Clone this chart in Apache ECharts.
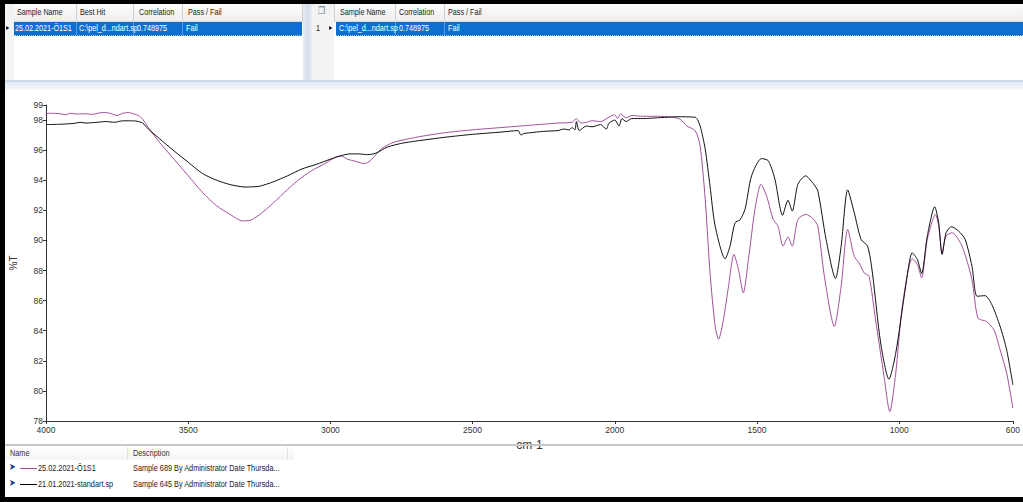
<!DOCTYPE html>
<html>
<head>
<meta charset="utf-8">
<script src="https://cdn.jsdelivr.net/npm/echarts@6/dist/echarts.min.js"></script>
<style>
  html,body{margin:0;padding:0;background:#fff;}
  #wrap{position:relative;width:1023px;height:502px;overflow:hidden;background:#fff;font-family:"Liberation Sans",Arial,sans-serif;}
  #chart{position:absolute;left:0;top:0;width:1023px;height:502px;}
  .abs{position:absolute;}
  .t{position:absolute;font-size:9px;color:#222;white-space:nowrap;line-height:12px;transform-origin:0 50%;transform:scaleX(0.8);}
  .w{color:#fff;}
</style>
</head>
<body>
<div id="wrap">
  <div id="chart"></div>
</div>
<script>
// ---------- data ----------
var xTickValues = [4000, 3500, 3000, 2500, 2000, 1500, 1000, 600];
var yTickValues = [78, 80, 82, 84, 86, 88, 90, 92, 94, 96, 98, 99];

var sampleName = "25.02.2021-Ö1S1";
var standardName = "21.01.2021-standart.sp";
var bestHit = "C:\\pel_d...ndart.sp";
var correlation = "0.748975";
var passFail = "Fail";
var desc1 = "Sample 689 By Administrator Date Thursda...";
var desc2 = "Sample 645 By Administrator Date Thursda...";

// sample (purple) spectrum: wavenumber (cm-1) and %T
var sampleWn = [4000,3980,3950,3930,3915,3890,3860,3840,3810,3790,3770,3750,3730,3710,3690,3675,3660,3640,3600,3550,3500,3450,3400,3350,3310,3280,3250,3200,3150,3100,3060,3020,2980,2960,2940,2910,2880,2860,2840,2820,2780,2700,2600,2500,2400,2300,2200,2150,2135,2120,2100,2080,2050,2020,2000,1990,1980,1960,1940,1900,1850,1800,1770,1746,1717,1700,1682,1665,1647,1635,1618,1600,1581,1565,1548,1530,1507,1486,1466,1443,1426,1408,1391,1376,1356,1327,1303,1286,1263,1228,1204,1181,1158,1141,1123,1106,1083,1053,1033,1012,989,954,936,921,901,872,861,849,835,814,779,744,723,694,667,645,622,600];
var sampleT  = [98.45,98.45,98.42,98.35,98.45,98.4,98.42,98.38,98.48,98.5,98.42,98.3,98.45,98.5,98.4,98.3,98.05,97.5,96.5,95.4,94.3,93.2,92.3,91.7,91.3,91.35,91.7,92.5,93.4,94.2,94.7,95.1,95.55,95.6,95.4,95.25,95.1,95.3,95.7,96.1,96.5,96.85,97.15,97.35,97.5,97.65,97.8,97.85,98.1,97.8,97.85,97.95,97.9,98.2,98.35,98.1,98.4,98.15,98.3,98.25,98.25,98.2,98.05,97.6,97.29,96.29,92.73,87.84,84.29,83.44,84.73,86.96,89.07,88.07,86.51,88.73,92.07,93.73,92.95,91.4,90.95,89.62,90.24,89.62,91.4,91.73,91.44,90.95,87.62,84.29,86.96,90.73,88.95,88.51,87.84,87.62,84.73,80.95,78.62,81.18,85.62,88.78,88.4,87.51,90.07,91.73,90.95,89.13,90.29,90.51,89.62,87.4,84.84,84.62,84.07,82.73,81.18,78.85];

// standard (black) spectrum
var standardWn = [4000,3950,3900,3880,3860,3820,3790,3760,3730,3700,3680,3660,3640,3600,3550,3500,3450,3400,3350,3300,3250,3200,3150,3100,3050,3000,2960,2930,2900,2870,2840,2800,2750,2700,2600,2500,2400,2340,2330,2320,2300,2250,2200,2180,2160,2150,2140,2135,2125,2100,2080,2050,2030,2020,2000,1985,1975,1960,1940,1900,1850,1800,1781,1717,1700,1682,1665,1647,1612,1595,1577,1560,1542,1519,1484,1460,1437,1410,1391,1376,1356,1329,1303,1286,1257,1224,1204,1181,1158,1134,1111,1094,1065,1036,1012,977,954,936,921,901,875,861,849,835,816,791,768,744,726,698,674,645,622,600];
var standardT  = [97.7,97.72,97.78,97.85,97.8,97.85,97.9,97.85,97.95,97.95,97.92,97.8,97.4,96.75,95.95,95.2,94.45,94.0,93.7,93.55,93.6,93.9,94.3,94.75,95.05,95.4,95.65,95.75,95.75,95.7,95.8,96.2,96.45,96.6,96.85,97.05,97.2,97.3,97.0,97.1,97.15,97.25,97.3,97.4,97.35,97.5,97.35,97.9,97.3,97.6,97.55,97.7,97.4,97.8,98.0,97.6,98.1,97.9,98.1,98.1,98.15,98.2,98.22,98.18,97.6,96.07,93.6,90.95,88.78,89.6,91.18,91.36,92.07,94.29,95.44,95.29,94.07,91.67,92.67,91.95,93.73,94.29,93.8,93.29,90.07,87.47,89.62,93.36,91.85,90.07,89.62,87.84,83.18,80.78,82.51,86.95,89.18,88.73,87.8,90.29,92.24,91.18,89.07,90.51,90.91,90.62,90.07,88.29,86.29,86.33,85.73,84.29,82.73,80.4];

// ---------- UI panels (HTML) ----------
var wrap = document.getElementById('wrap');
function box(l,t,w,h,style){var d=document.createElement('div');d.className='abs';d.style.left=l+'px';d.style.top=t+'px';d.style.width=w+'px';d.style.height=h+'px';if(style)d.style.cssText+=style;wrap.appendChild(d);return d;}
function txt(l,t,s,cls,extra){var d=document.createElement('div');d.className='t'+(cls?' '+cls:'');d.style.left=l+'px';d.style.top=t+'px';d.textContent=s;if(extra)d.style.cssText+=extra;wrap.appendChild(d);return d;}

// top panels background
box(0,0,1023,90,'background:#fff;');
// header rows
box(4,4,300,17,'background:linear-gradient(#fdfdfd,#eeeeee);border-bottom:1px solid #d8d8d8;');
box(312,4,711,17,'background:linear-gradient(#fdfdfd,#eeeeee);border-bottom:1px solid #d8d8d8;');
// row header column
box(4,4,10,78,'background:#f3f3f3;');
box(312,4,22,78,'background:#f3f3f3;');
// selected rows
box(14,22,288,13,'background:#0f6fd1;border-bottom:1px dotted #9cc4ee;');
box(336,22,687,13,'background:#0f6fd1;border-bottom:1px dotted #9cc4ee;');
// column separators
[76,133,182,302].forEach(function(x){box(x,4,1,17,'background:#d0d0d0;');});
[334,395,444].forEach(function(x){box(x,4,1,17,'background:#d0d0d0;');});
[76,133,182].forEach(function(x){box(x,22,1,13,'background:#5a9be0;');});
[395,444].forEach(function(x){box(x,22,1,13,'background:#5a9be0;');});
// panel gap and bottom band
box(303,4,9,86,'background:linear-gradient(90deg,#e6ecf4,#d3deec,#e6ecf4);');
box(4,80,1019,2,'background:#c9d8ea;');
box(4,82,1019,8,'background:linear-gradient(#e4ebf4,#f4f7fb);');
// texts top
txt(17,6,'Sample Name'); txt(80,6,'Best Hit'); txt(139,6,'Correlation'); txt(188,6,'Pass / Fail');
txt(15,22,sampleName,'w'); txt(79,22,bestHit,'w'); txt(137,22,correlation,'w'); txt(186,22,passFail,'w');
txt(6,22,'\u25B8','', 'font-size:8px;color:#000;');
txt(340,6,'Sample Name'); txt(399,6,'Correlation'); txt(448,6,'Pass / Fail');
txt(339,22,bestHit,'w'); txt(399,22,correlation,'w'); txt(448,22,passFail,'w');
txt(316,22,'1'); txt(329,22,'\u25B8','', 'font-size:8px;color:#000;');
txt(318,5,'\u2750','', 'font-size:10px;color:#6a7a90;');

// frame
box(0,0,1023,4,'background:#000;');
box(0,0,5,502,'background:#000;');
box(0,497,1023,5,'background:#000;');

// bottom legend table
box(5,444,1018,2,'background:#c8c8c8;');
box(5,446,289,14,'background:linear-gradient(#ffffff,#f4f4f4);');
box(127,447,1,12,'background:#e0e0e0;');
box(287,447,1,12,'background:#e0e0e0;');
txt(10,447,'Name','', 'font-size:8.5px;color:#333;transform:scaleX(0.86);');
txt(133,447,'Description','', 'font-size:8.5px;color:#333;transform:scaleX(0.86);');
function legendRow(y,color,name,desc){
  txt(9,y-1,'\u27A4','', 'font-size:10px;color:#1a3d8f;');
  box(20,y+6,17,1,'background:'+color+';');
  txt(38,y,name,'', 'font-size:8.5px;color:#222;transform:scaleX(0.86);');
  txt(133,y,desc,'', 'font-size:8.5px;color:#222;transform:scaleX(0.86);');
}
legendRow(462,'#a0509c',sampleName,desc1);
legendRow(478,'#000',standardName,desc2);

// ---------- chart ----------
function pairs(xs, ys){ return xs.map(function(x,i){ return [x, ys[i]]; }); }
var chart = echarts.init(document.getElementById('chart'), null, {renderer:'svg'});
var axisFont = {fontFamily:'"Liberation Sans",Arial,sans-serif', fontSize:8.5, color:'#333'};
chart.setOption({
  animation:false,
  backgroundColor:'transparent',
  grid:{left:45, right:5, top:105, bottom:81, containLabel:false},
  xAxis:{
    type:'value', inverse:true, min:600, max:4000, interval:500,
    name:'cm-1', nameLocation:'middle', nameGap:14,
    nameTextStyle:{fontFamily:'"Liberation Sans",Arial,sans-serif', fontSize:12, color:'#333'},
    axisLine:{show:true, lineStyle:{color:'#333', width:1}},
    axisTick:{show:true, length:3, inside:false, customValues:xTickValues, lineStyle:{color:'#333'}},
    axisLabel:Object.assign({margin:4, customValues:xTickValues, showMinLabel:true, showMaxLabel:true,
      formatter:function(v){return String(v);}}, axisFont),
    splitLine:{show:false}
  },
  yAxis:{
    type:'value', min:78, max:99, interval:2,
    name:'%T', nameLocation:'middle', nameGap:28, nameRotate:90,
    nameTextStyle:{fontFamily:'"Liberation Sans",Arial,sans-serif', fontSize:10, color:'#333'},
    axisLine:{show:true, lineStyle:{color:'#333', width:1}},
    axisTick:{show:true, length:3, customValues:yTickValues, lineStyle:{color:'#333'}},
    axisLabel:Object.assign({margin:3, customValues:yTickValues,
      formatter:function(v){return String(v);}}, axisFont),
    splitLine:{show:false}
  },
  series:[
    {type:'line', name:sampleName, data:pairs(sampleWn, sampleT), showSymbol:false, smooth:0.25,
     lineStyle:{color:'#a0509c', width:1}, itemStyle:{color:'#a0509c'}, z:2},
    {type:'line', name:standardName, data:pairs(standardWn, standardT), showSymbol:false, smooth:0.25,
     lineStyle:{color:'#111', width:1}, itemStyle:{color:'#111'}, z:3}
  ]
});
</script>
</body>
</html>
